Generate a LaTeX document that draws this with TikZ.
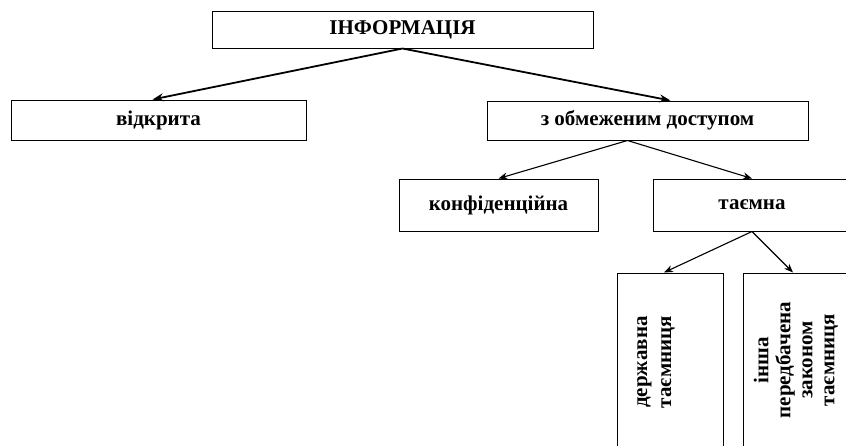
\documentclass[tikz,border=0pt]{standalone}
\usepackage{fontspec}
\setmainfont{Liberation Serif}
\usetikzlibrary{arrows.meta}

\tikzset{
  box/.style={draw, line width=1pt, inner sep=0pt, font=\fontsize{21}{24}\selectfont\bfseries},
  lbl/.style={inner sep=0pt, align=center, font=\fontsize{21}{24}\selectfont\bfseries},
  arr/.style={-{Stealth[length=11pt,width=8pt]}, line width=1.8pt},
  subarr/.style={-{Stealth[length=9pt,width=7pt]}, line width=1.1pt}
}

\begin{document}
\begin{tikzpicture}[x=1pt,y=-1pt]
\useasboundingbox (0,0) rectangle (846,445);
\fill[white] (0,0) rectangle (846,445);
\clip (0,0) rectangle (846,445);

% top level
\node[box, minimum width=381, minimum height=37] (info) at (402.5,29.5) {ІНФОРМАЦІЯ};
\node[box, minimum width=295, minimum height=40] (open) at (158.5,120) {відкрита};
\node[box, minimum width=321, minimum height=39] (restr) at (647.5,120.5) {з обмеженим доступом};

\draw[arr] (info.south) -- ([xshift=-6pt]open.north);
\draw[arr] (info.south) -- ([xshift=23pt]restr.north);

% restricted access
\node[box, minimum width=199, minimum height=52] (conf) at (498.5,205) {конфіденційна};
\node[box, minimum width=198, minimum height=52] (secret) at (752,205) {таємна};

\draw[subarr] ([xshift=-20pt]restr.south) -- (conf.north);
\draw[subarr] ([xshift=-20pt]restr.south) -- (secret.north);

% kinds of secret
\node[box, minimum width=106, minimum height=180] (state) at (670,363) {};
\node[box, minimum width=106, minimum height=180] (other) at (796,363) {};
\node[lbl, rotate=90] (statetxt) at (656,362) {державна\\таємниця};
\node[lbl, rotate=90, font=\fontsize{21}{22}\selectfont\bfseries] (othertxt) at (796,360) {інша\\передбачена\\законом\\таємниця};

\draw[subarr] (secret.south) -- ([xshift=-6pt]state.north);
\draw[subarr] (secret.south) -- ([xshift=-3pt]other.north);
\end{tikzpicture}
\end{document}
